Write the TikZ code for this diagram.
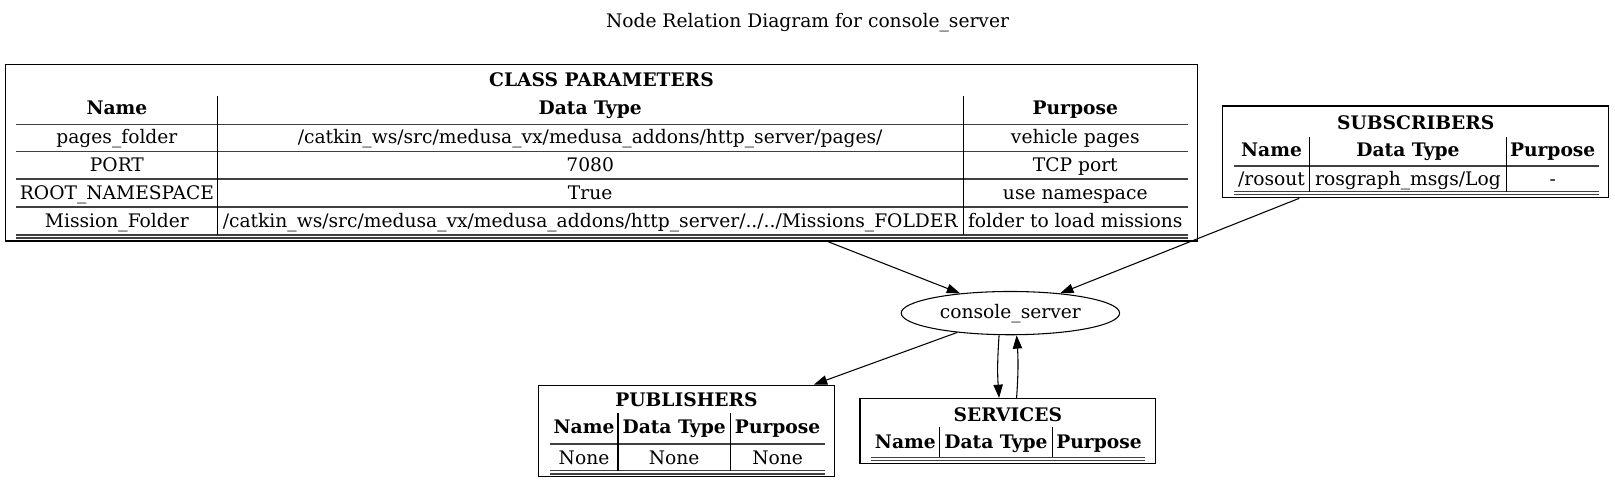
\documentclass[tikz,border=0pt]{standalone}
\usepackage{fontspec}
\setmainfont{DejaVu Serif}
\usetikzlibrary{arrows.meta,shapes.geometric}
\begin{document}
\begin{tikzpicture}[x=0.7725pt,y=-0.7725pt,
  font=\fontsize{14}{16}\selectfont,
  box/.style={draw=black,line width=0.9pt,rectangle,inner sep=0pt},
  txt/.style={inner sep=0pt,anchor=center,text height=10.5pt,text depth=0pt},
  hd/.style={txt,font=\fontsize{14}{16}\selectfont\bfseries},
  tline/.style={draw=black!75,line width=1.1pt},
  vline/.style={draw=black,line width=0.8pt},
  edge/.style={draw=black,line width=0.8pt,-{Triangle[length=10pt,width=7pt]}}]
\useasboundingbox (0,0) rectangle (1568,469);
\node[txt] (title) at (784,20) {Node Relation Diagram for console\_server};

% CLASS PARAMETERS
\node[box,minimum width=1158*0.7725pt,minimum height=171*0.7725pt] (class) at (584,148.5) {};
\node[hd] (cpt) at (584,77) {CLASS PARAMETERS};
\node[hd] (cph1) at (113.5,104) {Name};
\node[hd] (cph2) at (573,104) {Data Type};
\node[hd] (cph3) at (1044,104) {Purpose};
\draw[tline] (16,121) -- (1153,121);
\node[txt] (c11) at (113.5,133) {pages\_folder};
\node[txt] (c12) at (573,133) {/catkin\_ws/src/medusa\_vx/medusa\_addons/http\_server/pages/};
\node[txt] (c13) at (1044,133) {vehicle pages};
\draw[tline] (16,147) -- (1153,147);
\node[txt] (c21) at (113.5,160) {PORT};
\node[txt] (c22) at (573,160) {7080};
\node[txt] (c23) at (1044,160) {TCP port};
\draw[tline] (16,174) -- (1153,174);
\node[txt] (c31) at (113.5,187) {ROOT\_NAMESPACE};
\node[txt] (c32) at (573,187) {True};
\node[txt] (c33) at (1044,187) {use namespace};
\draw[tline] (16,201) -- (1153,201);
\node[txt] (c41) at (113.5,214) {Mission\_Folder};
\node[txt] (c42) at (573,214) {/catkin\_ws/src/medusa\_vx/medusa\_addons/http\_server/../../Missions\_FOLDER};
\node[txt] (c43) at (1044,214) {folder to load missions};
\draw[tline] (16,228) -- (1153,228);
\draw[tline] (16,231) -- (1153,231);
\draw[vline] (211,93) -- (211,228);
\draw[vline] (935,93) -- (935,228);

% SUBSCRIBERS
\node[box,minimum width=375*0.7725pt,minimum height=89*0.7725pt] (subs) at (1374.5,147.5) {};
\node[hd] (st) at (1374.5,119) {SUBSCRIBERS};
\node[hd] (sh1) at (1234.5,145) {Name};
\node[hd] (sh2) at (1367,145) {Data Type};
\node[hd] (sh3) at (1507.5,145) {Purpose};
\draw[tline] (1198,161) -- (1552,161);
\node[txt] (s11) at (1234.5,173) {/rosout};
\node[txt] (s12) at (1367,173) {rosgraph\_msgs/Log};
\node[txt] (s13) at (1507.5,173) {-};
\draw[tline] (1198,186) -- (1552,186);
\draw[tline] (1198,189) -- (1552,189);
\draw[vline] (1271,133) -- (1271,186);
\draw[vline] (1463,133) -- (1463,186);

% console_server
\node[draw,ellipse,line width=0.8pt,inner sep=0pt,minimum width=212*0.7725pt,minimum height=42*0.7725pt] (cs) at (981,304) {console\_server};

% PUBLISHERS
\node[box,minimum width=287*0.7725pt,minimum height=89*0.7725pt] (pubs) at (666.5,418.5) {};
\node[hd] (pt) at (666.5,388) {PUBLISHERS};
\node[hd] (ph1) at (567,414) {Name};
\node[hd] (ph2) at (654.5,414) {Data Type};
\node[hd] (ph3) at (755,414) {Purpose};
\draw[tline] (534,431) -- (801,431);
\node[txt] (p11) at (567,444) {None};
\node[txt] (p12) at (654.5,444) {None};
\node[txt] (p13) at (755,444) {None};
\draw[tline] (534,457) -- (801,457);
\draw[tline] (534,460) -- (801,460);
\draw[vline] (600,401) -- (600,457);
\draw[vline] (709,401) -- (709,457);

% SERVICES
\node[box,minimum width=287*0.7725pt,minimum height=63*0.7725pt] (srv) at (978.5,418.5) {};
\node[hd] (vt) at (978.5,402) {SERVICES};
\node[hd] (vh1) at (879,429) {Name};
\node[hd] (vh2) at (967,429) {Data Type};
\node[hd] (vh3) at (1067,429) {Purpose};
\draw[tline] (846,444) -- (1112,444);
\draw[tline] (846,447) -- (1112,447);
\draw[vline] (912,415) -- (912,444);
\draw[vline] (1022,415) -- (1022,444);

% edges
\draw[edge] (class) -- (cs);
\draw[edge] (subs) -- (cs);
\draw[edge] (cs) -- (pubs);
\draw[edge] ([xshift=-11*0.7725pt]cs.south) to[bend right=4] ([xshift=-8.5*0.7725pt]srv.north);
\draw[edge] ([xshift=8.5*0.7725pt]srv.north) to[bend right=4] ([xshift=6*0.7725pt]cs.south);
\end{tikzpicture}
\end{document}
